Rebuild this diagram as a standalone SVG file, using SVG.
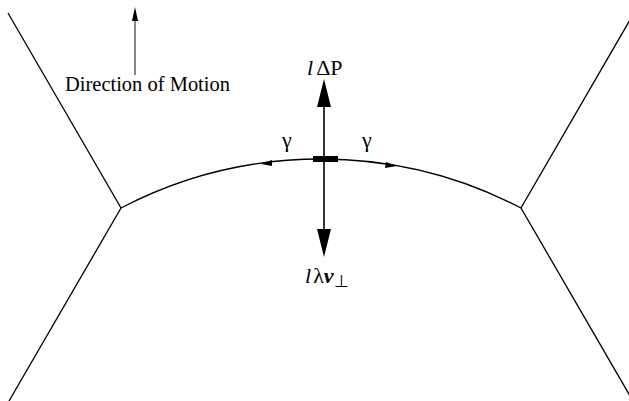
<svg xmlns="http://www.w3.org/2000/svg" width="629" height="401" viewBox="0 0 629 401">
<style>
.ln{fill:none;stroke:#000;stroke-width:1.3}
.t{font-family:"Liberation Serif","Times New Roman",serif;font-size:22px;fill:#000}
</style>
<rect width="629" height="401" fill="#fff"/>
<g id="boundaries">
<path class="ln" d="M8,13 L121,208 L9,401"/>
<path class="ln" d="M634,13 L521,208 L633,401"/>
</g>
<g id="connectors">
<path class="ln" d="M121,208 A432.7,432.7 0 0 1 521,208"/>
<line x1="135" y1="18" x2="135" y2="75" stroke="#555" stroke-width="1.4"/>
<polygon points="135,7 132,21 138,21" fill="#000"/>
<line x1="324" y1="100" x2="324" y2="232" stroke="#000" stroke-width="1.6"/>
<polygon points="324,79 317,107 331,107" fill="#000"/>
<polygon points="324,257 317,229 331,229" fill="#000"/>
<polygon points="261,164 272,160 272,166" fill="#000"/>
<polygon points="397,166 386,162 385,168" fill="#000"/>
</g>
<g id="segment"><rect x="313" y="156" width="25" height="6" fill="#000"/></g>
<g id="labels">
<text class="t" x="65" y="91" font-size="21" textLength="165" lengthAdjust="spacingAndGlyphs">Direction of Motion</text>
<text class="t" x="307" y="75"><tspan font-style="italic">l</tspan><tspan dx="3">ΔP</tspan></text>
<text class="t" x="305" y="283"><tspan font-style="italic">l</tspan><tspan dx="2">λ</tspan><tspan font-style="italic" font-weight="bold">v</tspan><tspan font-size="17" dy="4">⊥</tspan></text>
<text class="t" x="282" y="147">γ</text>
<text class="t" x="362" y="147">γ</text>
</g>
</svg>
